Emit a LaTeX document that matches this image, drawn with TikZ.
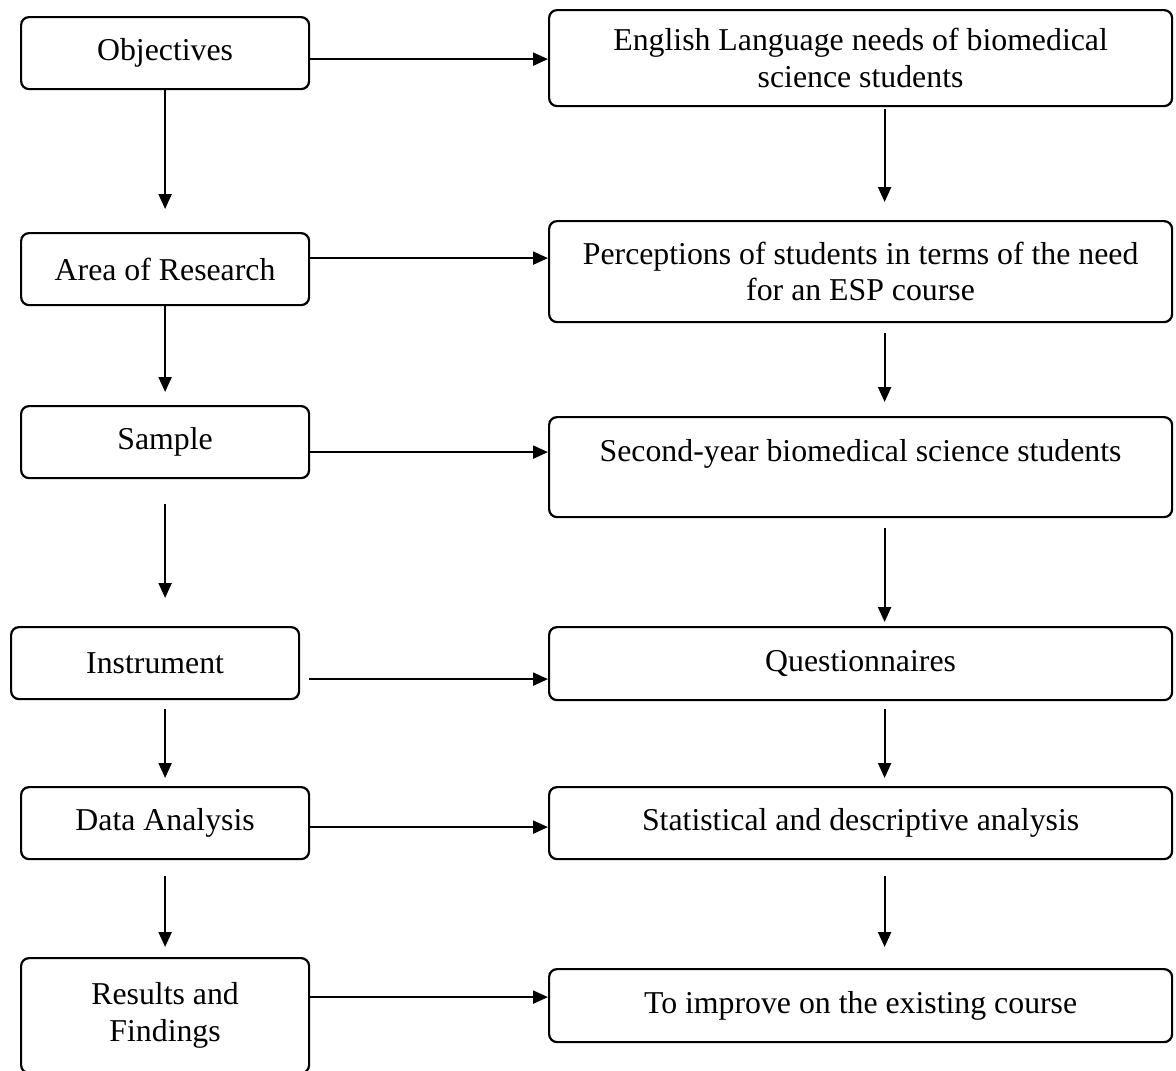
\documentclass[tikz,border=0pt]{standalone}
\usepackage{fontspec}
\setmainfont{Liberation Serif}
\usetikzlibrary{arrows.meta}
\newcommand\boxfont{\fontsize{31.8pt}{36.6pt}\selectfont}
\begin{document}
\begin{tikzpicture}[x=1pt,y=-1pt,
  box/.style={draw, line width=2.2pt, rounded corners=8pt, anchor=north west,
    inner sep=0pt, align=center, font=\boxfont},
  lbox/.style={box, minimum width=288pt, minimum height=72pt},
  rbox/.style={box, minimum width=623pt},
  arr/.style={line width=2.1pt, -{Triangle[length=15pt,width=13pt]}}]
\useasboundingbox (0,0) rectangle (1176,1071);
% left column
\node[lbox] (obj)  at (20,16)  {Objectives};
\node[lbox] (area) at (20,232) {Area of Research};
\node[lbox] (samp) at (20,405) {Sample};
\node[lbox] (ins)  at (10,626) {Instrument};
\node[lbox] (da)   at (20,786) {Data Analysis};
\node[lbox, minimum height=115pt] (res) at (20,957) {Results and\\Findings};
% right column
\node[rbox, minimum height=96pt]  (eng) at (548,9)   {English Language needs of biomedical\\science students};
\node[rbox, minimum height=101pt] (per) at (548,220) {Perceptions of students in terms of the need\\for an ESP course};
\node[rbox, minimum height=100pt, text height=22pt, text depth=33pt] (sec) at (548,416) {Second-year biomedical science students};
\node[rbox, minimum height=73pt]  (que) at (548,626) {Questionnaires};
\node[rbox, minimum height=72pt]  (sta) at (548,786) {Statistical and descriptive analysis};
\node[rbox, minimum height=73pt]  (imp) at (548,968) {To improve on the existing course};
% horizontal connectors
\draw[arr] ([yshift=-6pt]obj.east) coordinate (h1) -- (h1 -| eng.west);
\draw[arr] ([yshift=11pt]area.east) coordinate (h2) -- (h2 -| per.west);
\draw[arr] ([yshift=-10pt]samp.east) coordinate (h3) -- (h3 -| sec.west);
\draw[arr] ([xshift=9pt,yshift=-16pt]ins.east) coordinate (h4) -- (h4 -| que.west);
\draw[arr] ([yshift=-4pt]da.east) coordinate (h5) -- (h5 -| sta.west);
\draw[arr] ([yshift=18.5pt]res.east) coordinate (h6) -- (h6 -| imp.west);
% left vertical connectors
\draw[arr] (obj.south) -- ([yshift=23pt]area.north);
\draw[arr] (area.south) -- ([yshift=13pt]samp.north);
\path (samp.south |- ins.north) coordinate (t3);
\draw[arr] ([yshift=-25pt]samp.south) -- ([yshift=28pt]t3);
\path (da.north |- ins.south) coordinate (s4);
\draw[arr] ([yshift=-9pt]s4) -- ([yshift=8pt]da.north);
\draw[arr] ([yshift=-16pt]da.south) -- ([yshift=10pt]res.north);
% right vertical connectors
\draw[arr] ([xshift=24pt,yshift=-2pt]eng.south) -- ([xshift=24pt,yshift=18pt]per.north);
\draw[arr] ([xshift=24pt,yshift=-10pt]per.south) -- ([xshift=24pt,yshift=14pt]sec.north);
\draw[arr] ([xshift=24pt,yshift=-10pt]sec.south) -- ([xshift=24pt,yshift=4pt]que.north);
\draw[arr] ([xshift=24pt,yshift=-8pt]que.south) -- ([xshift=24pt,yshift=8pt]sta.north);
\draw[arr] ([xshift=24pt,yshift=-16pt]sta.south) -- ([xshift=24pt,yshift=21pt]imp.north);
\end{tikzpicture}
\end{document}
